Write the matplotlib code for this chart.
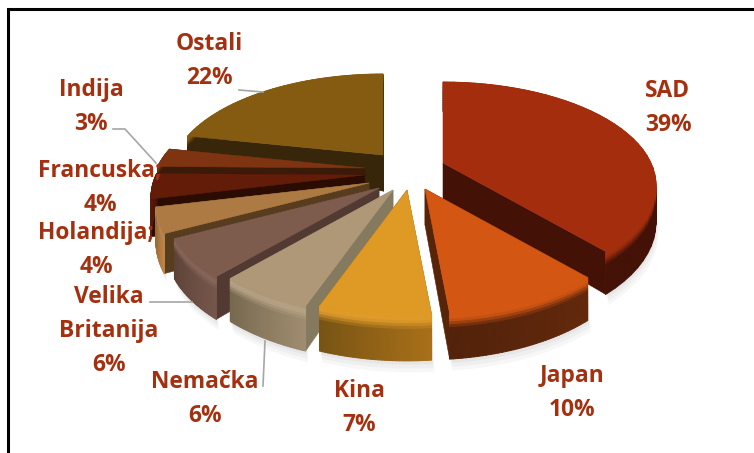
import numpy as np
import matplotlib
matplotlib.use('Agg')
import matplotlib.pyplot as plt
from matplotlib.collections import PolyCollection
from matplotlib.colors import to_rgb

# Data
countries = ['SAD', 'Japan', 'Kina', 'Nemačka', 'Velika\nBritanija', 'Holandija;', 'Francuska;', 'Indija', 'Ostali']
shares = [39, 10, 7, 6, 6, 4, 4, 3, 22]

# Colours: top face, cut face, outer wall (left end), outer wall (right end)
top_colors = ['#A32D0D', '#D35713', '#DF9A26', '#AE9878', '#7D5B4D', '#AE7A44', '#631C08', '#7E3410', '#855B12']
cut_colors = ['#441106', '#57240A', '#7A5514', '#857A5F', '#523A33', '#573C1D', '#2A0C03', '#3A1A08', '#37260A']
wall_left = ['#441106', '#63290C', '#A87019', '#A08C70', '#75564A', '#C08548', '#631C08', '#3A1A08', '#37260A']
wall_right = ['#441106', '#52220A', '#785414', '#77694F', '#5E4238', '#9A6A38', '#4A1506', '#3A1A08', '#37260A']
rim_light = [0, 0, 0.02, 0.12, 0.08, 0.1, 0, 0, 0]

# Layout, in pixels of the 754x453 picture
apex_x = [443, 425, 407, 393, 379, 369, 364, 365, 383]
apex_y = [163, 189, 190, 190, 188, 183, 175, 168, 155]
label_x = [668, 572, 359, 205, 109, 96, 100, 91, 209]
label_y = [108, 393, 408, 399, 331, 250, 188, 107, 61]
draw_order = [8, 7, 6, 5, 4, 3, 0, 2, 1]
leaders = [([239, 263], [90, 92]),
           ([113, 125, 156], [129, 129, 163]),
           ([150, 192], [302, 302]),
           ([265, 263], [341, 386])]

RX = 208
RY = 98.3
PERSP = 0.214
DEPTH = 36
TEXT_COLOR = '#A5300F'

plt.rcParams['font.family'] = ['Open Sans', 'DejaVu Sans']


def project(cx, cy, theta, r=1.0, z=0.0):
    u = r * np.sin(theta)
    v = r * np.cos(theta)
    w = 1 + PERSP * v
    return cx + RX * u / w, cy - RY * v / w + z / w


def blend(c1, c2, t):
    a, b = np.array(to_rgb(c1)), np.array(to_rgb(c2))
    return tuple(a + (b - a) * t)


def wall_color(i, mix, level):
    base = blend(wall_left[i], wall_right[i], mix)
    light = blend(top_colors[i], '#FFFFFF', rim_light[i])
    if level < 0.1:
        return blend(top_colors[i], light, level / 0.1)
    if level < 0.3:
        return blend(light, base, (level - 0.1) / 0.2)
    return base


fig = plt.figure(figsize=(7.54, 4.53), dpi=100)
ax = fig.add_axes([0, 0, 1, 1])
ax.set_xlim(0, 754)
ax.set_ylim(453, 0)
ax.axis('off')

# Frame
ax.plot([8, 8, 754], [453, 9, 9], color='black', lw=2.2, solid_joinstyle='miter')

fractions = np.array(shares) / sum(shares) * 2 * np.pi
ends = np.cumsum(fractions)
starts = ends - fractions

for i in draw_order:
    cx, cy = apex_x[i], apex_y[i]
    t = np.linspace(starts[i], ends[i], 40)

    # soft shadow under the front slices
    if i not in (7, 8):
        for grow, alpha in [(9, 0.05), (6, 0.06), (3, 0.07)]:
            sx, sy = project(cx, cy, t, 1.0, DEPTH + grow)
            ox, oy = project(cx, cy, t, 1.0, 0)
            ax.fill(np.r_[sx + grow * 0.3, ox[::-1]], np.r_[sy, oy[::-1]], color='#707070', alpha=alpha, lw=0)

    # cut faces
    for a in (starts[i], ends[i]):
        x1, y1 = project(cx, cy, a)
        ax.fill([cx, x1, x1, cx],
                [cy, y1, y1 + DEPTH / (1 + PERSP * np.cos(a)), cy + DEPTH],
                color=cut_colors[i], lw=0.4)

    # outer wall, split in small strips for the gradient
    polys, colors = [], []
    levels = np.linspace(0, 1, 17)
    for k in range(len(t) - 1):
        mix = k / (len(t) - 2)
        for l0, l1 in zip(levels[:-1], levels[1:]):
            xa, ya = project(cx, cy, t[k], 1.0, DEPTH * l0)
            xb, yb = project(cx, cy, t[k + 1], 1.0, DEPTH * l0)
            xc, yc = project(cx, cy, t[k + 1], 1.0, DEPTH * l1)
            xd, yd = project(cx, cy, t[k], 1.0, DEPTH * l1)
            polys.append([(xa, ya), (xb, yb), (xc, yc), (xd, yd)])
            colors.append(wall_color(i, mix, l0))
    ax.add_collection(PolyCollection(polys, facecolors=colors, edgecolors=colors, linewidths=0.7))

    # top face
    x, y = project(cx, cy, t)
    ax.fill(np.r_[cx, x], np.r_[cy, y], color=top_colors[i], lw=0.4)

# Leader lines
for lx, ly in leaders:
    ax.plot(lx, ly, color='#A6A6A6', lw=1.2)

# Labels
for name, share, tx, ty in zip(countries, shares, label_x, label_y):
    ax.text(tx, ty, f'{name}\n{share}%', color=TEXT_COLOR, fontsize=16.4, fontweight='bold',
            ha='center', va='center', linespacing=1.55, zorder=5)

fig.savefig('out.png', dpi=100)
